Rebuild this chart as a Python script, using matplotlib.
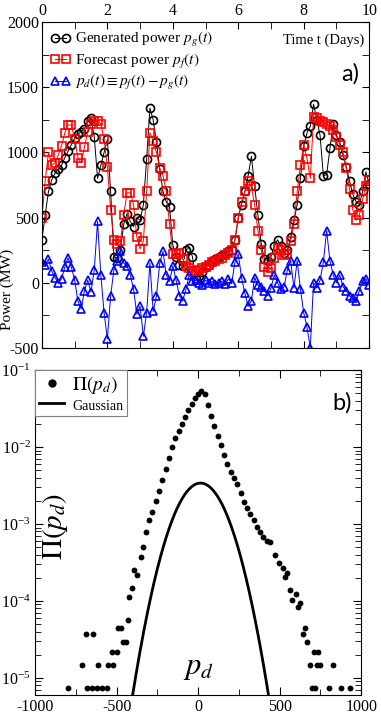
import numpy as np
import matplotlib
matplotlib.use("Agg")
import matplotlib.pyplot as plt
from matplotlib.ticker import MultipleLocator, LogLocator, NullFormatter

plt.rcParams['font.family'] = ['Liberation Serif', 'DejaVu Serif']
plt.rcParams['mathtext.fontset'] = 'stix'
plt.rcParams['axes.unicode_minus'] = False

# panel a) : time in days, power in MW
t = np.arange(0, 10.01, 0.1)
p_gen = [330, 520, 700, 790, 840, 870, 900, 960, 1010, 1060,
         1110, 1140, 1160, 1180, 1240, 1260, 1120, 800, 900, 1000,
         1100, 700, 200, 190, 250, 450, 530, 470, 430, 500,
         480, 600, 950, 1340, 1250, 1080, 870, 700, 620, 580,
         290, 200, 140, 130, 250, 270, 200, 30, 50, 80,
         120, 140, 160, 180, 200, 210, 220, 240, 250, 330,
         500, 600, 700, 820, 970, 740, 520, 300, 180, 170,
         200, 280, 330, 280, 230, 250, 350, 480, 600, 800,
         1050, 1150, 1200, 1370, 1250, 1130, 820, 830, 1030, 1220,
         1130, 1080, 980, 890, 780, 680, 620, 600, 700, 850,
         760]
p_fc = [500, 780, 1000, 900, 920, 980, 1050, 1150, 1210, 1210,
        1100, 960, 920, 1040, 1160, 1220, 1240, 1240, 1220, 1100,
        890, 560, 330, 300, 320, 520, 690, 690, 600, 350,
        260, 320, 700, 1150, 1090, 1000, 880, 820, 700, 450,
        220, 220, 230, 180, 130, 110, 90, 90, 100, 110,
        120, 140, 160, 170, 180, 190, 210, 230, 250, 330,
        500, 620, 700, 780, 740, 600, 400, 250, 120, 80,
        110, 190, 270, 250, 210, 220, 320, 450, 700, 900,
        1060, 950, 800, 1270, 1260, 1240, 1230, 1220, 1200, 1170,
        1120, 1060, 1000, 880, 720, 560, 480, 520, 640, 740,
        790]
p_diff = [160, 140, 180, 90, 40, 0, 30, 120, 190, 120,
          20, -140, -200, -60, 20, -70, 100, 470, 60, -230,
          -430, -100, 100, 170, 240, 150, 130, 60, -50, -240,
          -180, -410, -230, 150, -220, -100, 150, 240, 60, 10,
          130, 20, -100, -140, -50, 60, 10, 20, 0, -20,
          20, 0, 10, -10, 0, 10, -10, 30, 0, 160,
          220, 40, -80, -180, -140, 40, -20, -30, -60, -100,
          -40, 60, 0, -50, -30, 100, 170, -40, 170, -50,
          -230, -340, -500, 0, -40, 20, 160, 400, 170, 60,
          0, 60, -30, -60, -100, -120, -140, -60, 10, 30,
          -20]

# panel b) : distribution of p_d
pd_bins = [-797, -712, -687, -681, -650, -644, -620, -613, -589, -558,
           -552, -528, -521, -497, -491, -472, -460, -442, -429, -423,
           -405, -393, -374, -350,
           -340, -320, -300, -280, -260, -240, -220, -200, -180, -160,
           -140, -120, -100, -80, -60, -40, -20, 0, 20, 40,
           60, 80, 100, 120, 140, 160, 180, 200, 220, 240,
           260, 280, 300, 320, 340, 360, 380, 400, 420, 440,
           472, 497, 521, 534, 546, 564, 577, 601, 613, 626,
           644, 656, 669, 687, 699, 712, 718, 730, 736, 748,
           804, 828, 877, 933]
pi_pd = [7.4e-6, 1.48e-5, 3.7e-5, 7.4e-6, 7.4e-6, 3.7e-5, 7.4e-6, 1.48e-5, 7.4e-6, 7.4e-6,
         1.48e-5, 2.19e-5, 1.48e-5, 2.19e-5, 4.47e-5, 4.47e-5, 2.95e-5, 2.95e-5, 5.6e-5, 1.12e-4,
         1.48e-4, 2.51e-4, 2.19e-4, 3.72e-4,
         5.0e-4, 7.9e-4, 1.12e-3, 1.45e-3, 2.0e-3, 2.7e-3, 3.7e-3, 5.2e-3, 7.2e-3, 1.0e-2,
         1.29e-2, 1.62e-2, 2.0e-2, 2.45e-2, 3.0e-2, 3.6e-2, 4.3e-2, 4.9e-2, 5.4e-2, 4.9e-2,
         3.55e-2, 2.5e-2, 1.86e-2, 1.41e-2, 1.05e-2, 7.8e-3, 6.0e-3, 4.8e-3, 4.0e-3, 3.3e-3,
         2.5e-3, 1.95e-3, 1.62e-3, 1.35e-3, 1.12e-3, 9.1e-4, 7.9e-4, 6.8e-4, 6.0e-4, 5.75e-4,
         3.98e-4, 3.09e-4, 2.69e-4, 2.04e-4, 2.29e-4, 1.38e-4, 1.02e-4, 1.23e-4, 8.3e-5, 9.3e-5,
         3.7e-5, 4.47e-5, 2.95e-5, 1.48e-5, 7.4e-6, 2.19e-5, 7.4e-6, 1.48e-5, 2.19e-5, 1.48e-5,
         7.4e-6, 1.48e-5, 7.4e-6, 7.4e-6]
gauss_mean = 15
gauss_sigma = 117
gauss_peak = 3.4e-3

fig = plt.figure(figsize=(3.81, 7.23), dpi=100)
ax1 = fig.add_axes([0.110, 0.5187, 0.859, 0.4509])
ax2 = fig.add_axes([0.092, 0.0387, 0.856, 0.4495])

# ---- panel a
ax1.plot(t, p_gen, '-o', color='black', mfc='none', ms=5.8, mew=1.2, lw=0.7,
         label='Generated power $p_g(t)$')
ax1.plot(t, p_fc, '-s', color='red', mfc='none', ms=5.2, mew=1.2, lw=0.7,
         label='Forecast power $p_f(t)$')
ax1.plot(t, p_diff, '-^', color='blue', mfc='none', ms=5.8, mew=1.2, lw=0.7,
         label=r'$p_d(t) \equiv p_f(t) - p_g(t)$')
ax1.set_xlim(0, 10)
ax1.set_ylim(-500, 2000)
ax1.xaxis.set_major_locator(MultipleLocator(2))
ax1.xaxis.set_minor_locator(MultipleLocator(1))
ax1.yaxis.set_major_locator(MultipleLocator(500))
ax1.yaxis.set_minor_locator(MultipleLocator(250))
ax1.tick_params(which='both', direction='in', top=True, right=True,
                labeltop=True, labelbottom=False, labelsize=11.5, pad=2)
ax1.tick_params(which='major', length=5)
ax1.tick_params(which='minor', length=5)
ax1.set_ylabel('Power (MW)', fontsize=11)
ax1.yaxis.set_label_coords(-0.085, 0.18)
ax1.legend(loc='upper left', frameon=False, fontsize=11, numpoints=2,
           handlelength=1.3, handletextpad=0.3, labelspacing=0.15,
           borderaxespad=0.15)
ax1.text(0.985, 0.945, 'Time t (Days)', transform=ax1.transAxes,
         ha='right', va='center', fontsize=10.5)
ax1.text(0.97, 0.84, 'a)', transform=ax1.transAxes, ha='right', va='center',
         fontsize=17, family=['Lato', 'DejaVu Sans'])

# ---- panel b
ax2.semilogy(pd_bins, pi_pd, 'o', color='black', ms=4.2, mew=0,
             label=r'$\Pi(p_d)$')
xg = np.linspace(-1000, 1000, 801)
yg = gauss_peak * np.exp(-0.5 * ((xg - gauss_mean) / gauss_sigma) ** 2)
ax2.semilogy(xg, yg, '-', color='black', lw=2, label='Gaussian')
ax2.set_xlim(-1000, 1000)
ax2.set_ylim(6e-6, 0.1)
ax2.xaxis.set_major_locator(MultipleLocator(500))
ax2.xaxis.set_minor_locator(MultipleLocator(250))
ax2.yaxis.set_major_locator(LogLocator(base=10, numticks=10))
ax2.yaxis.set_minor_locator(LogLocator(base=10, subs=np.arange(2, 10), numticks=10))
ax2.yaxis.set_minor_formatter(NullFormatter())
ax2.tick_params(which='both', direction='in', top=True, right=True,
                labelsize=11.5, pad=3)
ax2.tick_params(which='major', length=6)
ax2.tick_params(which='minor', length=4)
leg = ax2.legend(loc='upper left', fontsize=14, numpoints=1, handlelength=1.3,
                 handletextpad=0.4, labelspacing=0.0, borderaxespad=0.0,
                 borderpad=0.2, fancybox=False, edgecolor='gray', framealpha=1)
leg.get_frame().set_linewidth(0.8)
leg.get_texts()[1].set_fontsize(10)
leg.legend_handles[0].set_markersize(6)
ax2.text(0.97, 0.90, 'b)', transform=ax2.transAxes, ha='right', va='center',
         fontsize=17, family=['Lato', 'DejaVu Sans'])
ax2.text(0.06, 0.52, r'$\Pi(p_d)$', transform=ax2.transAxes, rotation=90,
         ha='center', va='center', fontsize=21)
ax2.text(0.50, 0.085, r'$p_d$', transform=ax2.transAxes,
         ha='center', va='center', fontsize=22)

fig.savefig('out.png', dpi=100)
